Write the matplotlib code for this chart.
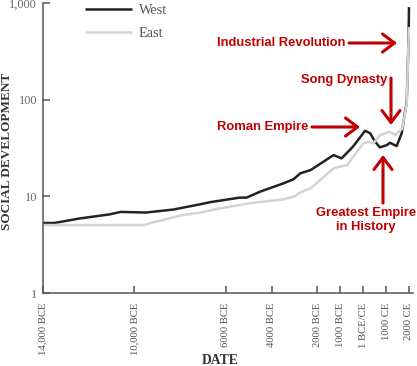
import matplotlib
matplotlib.use("Agg")
import matplotlib.pyplot as plt
from matplotlib.ticker import FixedLocator, FixedFormatter, NullLocator

# Social development index, West vs East
west_years = [-14000, -13500, -12400, -11100, -10600, -9500, -8300, -7100, -6700,
              -5400, -5100, -4500, -3500, -3050, -2750, -2300, -1300, -950, -450,
              80, 300, 520, 730, 1030, 1170, 1460, 1680, 1800, 1900, 1950, 1980, 2000]
west_values = [5.3, 5.3, 5.9, 6.5, 6.9, 6.8, 7.3, 8.3, 8.7,
               9.7, 9.7, 11.2, 13.6, 15.0, 17.3, 18.7, 26.7, 24.7, 32.6,
               47.7, 44.9, 36.7, 32.1, 33.9, 35.8, 33.1, 44.9, 68, 95, 235, 410, 906]

east_years = [-14000, -9550, -9300, -7900, -7100, -6400, -4950, -3500, -3000, -2750,
              -2300, -1300, -700, 0, 220, 440, 730, 1170, 1390, 1700, 1800, 1900,
              1950, 1980, 2000]
east_values = [5.05, 5.05, 5.3, 6.4, 6.8, 7.4, 8.5, 9.3, 10.0, 11.0,
               12.1, 19.5, 21.1, 35.3, 36.7, 35.3, 43.0, 46.6, 43.0, 50, 66, 92,
               230, 400, 565]

tick_years = [-14000, -10000, -6000, -4000, -2000, -1000, 0, 1000, 2000]
tick_labels = ["14,000 BCE", "10,000 BCE", "6000 BCE", "4000 BCE", "2000 BCE",
               "1000 BCE", "1 BCE/CE", "1000 CE", "2000 CE"]
y_ticks = [1, 10, 100, 1000]
y_labels = ["1", "10", "100", "1,000"]

# annotations: (text, text pos, arrow start, arrow end) in figure pixels
notes = [
    ("Industrial Revolution", (217, 43), (349, 43), (397, 43), "left"),
    ("Song Dynasty", (301, 80), (391, 78), (391, 125), "left"),
    ("Roman Empire", (217, 127), (312, 127), (360, 127), "left"),
    ("Greatest Empire\nin History", (366, 220), (383, 203), (383, 155), "center"),
]

W, H = 417, 366
red = "#c00000"
grey = "#555555"
serif = "Liberation Serif"


def fig_frac(p):
    return (p[0] / W, 1 - p[1] / H)


fig = plt.figure(figsize=(W / 100, H / 100), dpi=100)
ax = fig.add_axes([43 / W, 1 - 293 / H, 370 / W, 290 / H])

ax.plot(west_years, west_values, color="#222222", lw=1.8, label="West",
        solid_capstyle="butt")
ax.plot(east_years, east_values, color="#d3d3d3", lw=1.8, label="East",
        solid_capstyle="butt")

ax.set_yscale("log")
ax.set_ylim(1, 1000)
ax.set_xlim(-14000, 2175)

ax.yaxis.set_major_locator(FixedLocator(y_ticks))
ax.yaxis.set_major_formatter(FixedFormatter(y_labels))
ax.yaxis.set_minor_locator(NullLocator())
ax.xaxis.set_major_locator(FixedLocator(tick_years))
ax.xaxis.set_major_formatter(FixedFormatter(tick_labels))

for s in ["top", "right"]:
    ax.spines[s].set_visible(False)
for s in ["left", "bottom"]:
    ax.spines[s].set_color(grey)
    ax.spines[s].set_linewidth(1.1)

ax.tick_params(axis="both", direction="in", length=5, width=1.1, color=grey)
ax.tick_params(axis="y", pad=4.3, labelsize=8.8, labelcolor="#666666")
ax.tick_params(axis="x", pad=7.2, labelsize=7.7, labelcolor="#555555",
               labelrotation=90)
for lab in ax.get_xticklabels() + ax.get_yticklabels():
    lab.set_family(serif)
for lab in ax.get_xticklabels():
    lab.set_va("top")

ax.set_xlabel("DATE", family=serif, fontweight="bold", fontsize=9.8,
              color="#333333", va="center")
ax.xaxis.set_label_coords((220 - 43) / 370, (293 - 360) / 290)
ax.set_ylabel("SOCIAL DEVELOPMENT", family=serif, fontweight="bold",
              fontsize=9.5, color="#333333", va="center")
ax.yaxis.set_label_coords((7 - 43) / 370, 0.49)

leg = ax.legend(loc="upper left", bbox_to_anchor=((85 - 43) / 370, 0.998),
                frameon=False, borderpad=0, borderaxespad=0,
                handlelength=3.3, handletextpad=0.45, labelspacing=0.75,
                prop={"family": serif, "size": 10.3})
for t in leg.get_texts():
    t.set_color(grey)

for text, tpos, a0, a1, ha in notes:
    fig.text(*fig_frac(tpos), text, ha=ha, va="center", color=red,
             fontsize=9.4, fontweight="bold", family="Liberation Sans",
             linespacing=1.15)
    ax.annotate("", xy=fig_frac(a1), xytext=fig_frac(a0),
                xycoords="figure fraction", textcoords="figure fraction",
                arrowprops=dict(arrowstyle="->,head_length=0.86,head_width=0.65",
                                color=red, lw=2.2, mutation_scale=10,
                                shrinkA=0, shrinkB=0))

fig.savefig("out.png", dpi=100)
